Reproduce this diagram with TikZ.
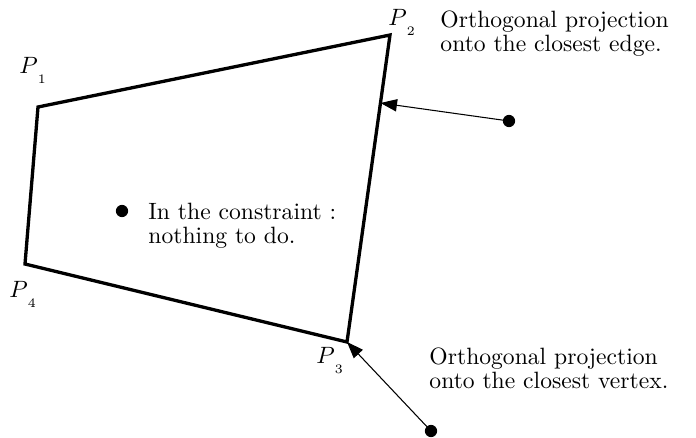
\documentclass[tikz,border=0pt]{standalone}
\usetikzlibrary{arrows.meta,calc}
\begin{document}
\begin{tikzpicture}[x=0.4237pt,y=-0.4237pt,
  edge/.style={line width=1.4pt,line join=miter},
  proj/.style={line width=0.45pt,-{Triangle[length=7pt,width=5.2pt]}},
  pt/.style={circle,fill=black,inner sep=0pt,minimum size=5.2pt},
  lbl/.style={anchor=base west,inner sep=0pt},
  txt/.style={anchor=base west,inner sep=0pt,align=left,font=\fontsize{10}{10}\selectfont}]
\useasboundingbox (0,0) rectangle (696,437);
\coordinate (p1) at (38,107);
\coordinate (p2) at (390,35);
\coordinate (p3) at (347,342);
\coordinate (p4) at (25,264);
\draw[edge] (p1) -- (p2) -- (p3) -- (p4) -- cycle;
\node[lbl] (l1) at (19,73) {$P$\raisebox{-4.5pt}{\fontsize{5.5}{5.5}\selectfont 1}};
\node[lbl] (l2) at (388,25) {$P$\raisebox{-4.5pt}{\fontsize{5.5}{5.5}\selectfont 2}};
\node[lbl] (l3) at (316,363) {$P$\raisebox{-4.5pt}{\fontsize{5.5}{5.5}\selectfont 3}};
\node[lbl] (l4) at (9,297) {$P$\raisebox{-4.5pt}{\fontsize{5.5}{5.5}\selectfont 4}};
\node[pt] (e) at (509,121) {};
\node[pt] (m) at (122,211) {};
\node[pt] (v) at (431,431) {};
\coordinate (f) at ($(p2)!(e)!(p3)$);
\draw[proj] (e.center) -- (f);
\draw[proj] (v.center) -- (p3);
\node[txt] (te) at (440,51) {Orthogonal projection\\onto the closest edge.};
\node[txt] (tm) at (148,243) {In the constraint :\\nothing to do.};
\node[txt] (tv) at (429,388) {Orthogonal projection\\onto the closest vertex.};
\end{tikzpicture}
\end{document}
